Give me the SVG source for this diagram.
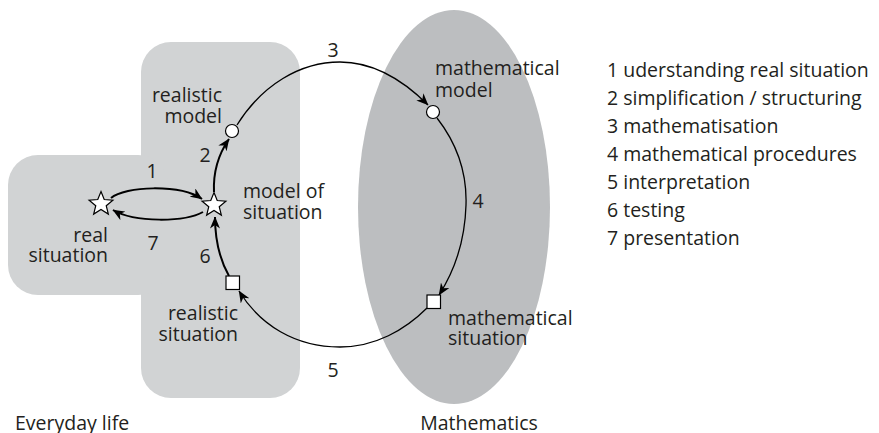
<svg xmlns="http://www.w3.org/2000/svg" width="879" height="433" viewBox="0 0 879 433">
<style>
text{font-family:"Open Sans","Noto Sans","Liberation Sans",sans-serif;font-size:19.5px;fill:#231f20}
.r{text-anchor:end}
.m{text-anchor:middle}
.c{fill:none;stroke:#000;stroke-width:1.3}
.t{fill:none;stroke:#000;stroke-width:2}
.node{fill:#fff;stroke:#000;stroke-width:1.2}
</style>
<defs>
<marker id="ah" viewBox="0 0 12 10" refX="11.5" refY="5" markerWidth="12" markerHeight="10" orient="auto" markerUnits="userSpaceOnUse"><path d="M0,0 L12,5 L0,10 L3.5,5 z" fill="#000"/></marker>
<polygon id="star" points="0,-12.5 3.23,-4.45 11.89,-3.86 5.23,1.7 7.35,10.11 0,5.5 -7.35,10.11 -5.23,1.7 -11.89,-3.86 -3.23,-4.45"/>
</defs>
<g id="everyday-life">
<rect x="141" y="42" width="159" height="356" rx="30" fill="#d1d3d4"/>
<rect x="8" y="155" width="160" height="140" rx="30" fill="#d1d3d4"/>
<text x="15" y="430">Everyday life</text>
</g>
<g id="mathematics">
<ellipse cx="454" cy="207" rx="96" ry="197" fill="#bcbec0"/>
<text x="479" y="430" class="m">Mathematics</text>
</g>
<g id="connectors">
<path class="t" d="M111,198 C125,186 180,184 202,199" marker-end="url(#ah)"/>
<path class="t" d="M203,212 C185,222 135,223 113,210" marker-end="url(#ah)"/>
<path class="t" d="M214,192 C213,170 220,152 229,139" marker-end="url(#ah)"/>
<path class="t" d="M229,276 C220,260 215,240 215,217" marker-end="url(#ah)"/>
<path class="c" d="M237,125 C262,85 300,62 340,62 C375,62 405,82 428,105" marker-end="url(#ah)"/>
<path class="c" d="M437,118 C458,145 467,175 466,205 C465,240 455,270 439,295" marker-end="url(#ah)"/>
<path class="c" d="M427,308 C405,330 375,347 340,347 C295,347 260,325 239,291" marker-end="url(#ah)"/>
<text x="152" y="178" class="m">1</text>
<text x="205" y="162" class="m">2</text>
<text x="333" y="57" class="m">3</text>
<text x="478" y="208" class="m">4</text>
<text x="333" y="377" class="m">5</text>
<text x="205" y="263" class="m">6</text>
<text x="153" y="250" class="m">7</text>
</g>
<g id="real-situation">
<use href="#star" x="101" y="204" class="node"/>
<text x="108" y="242" class="r">real</text>
<text x="108" y="262" class="r">situation</text>
</g>
<g id="model-of-situation">
<use href="#star" x="214" y="205" class="node"/>
<text x="243" y="198">model of</text>
<text x="243" y="219">situation</text>
</g>
<g id="realistic-model">
<circle cx="232" cy="131" r="6.5" class="node"/>
<text x="222" y="102" class="r">realistic</text>
<text x="222" y="123" class="r">model</text>
</g>
<g id="mathematical-model">
<circle cx="433" cy="112" r="6.5" class="node"/>
<text x="435" y="75">mathematical</text>
<text x="435" y="97">model</text>
</g>
<g id="mathematical-situation">
<rect x="427" y="295" width="13.5" height="13.5" class="node"/>
<text x="448" y="325">mathematical</text>
<text x="448" y="345">situation</text>
</g>
<g id="realistic-situation">
<rect x="226" y="276" width="13.5" height="13.5" class="node"/>
<text x="238" y="320" class="r">realistic</text>
<text x="238" y="341" class="r">situation</text>
</g>
<g id="legend">
<text x="607" y="77">1 uderstanding real situation</text>
<text x="607" y="105">2 simplification / structuring</text>
<text x="607" y="133">3 mathematisation</text>
<text x="607" y="161">4 mathematical procedures</text>
<text x="607" y="189">5 interpretation</text>
<text x="607" y="217">6 testing</text>
<text x="607" y="245">7 presentation</text>
</g>
</svg>
